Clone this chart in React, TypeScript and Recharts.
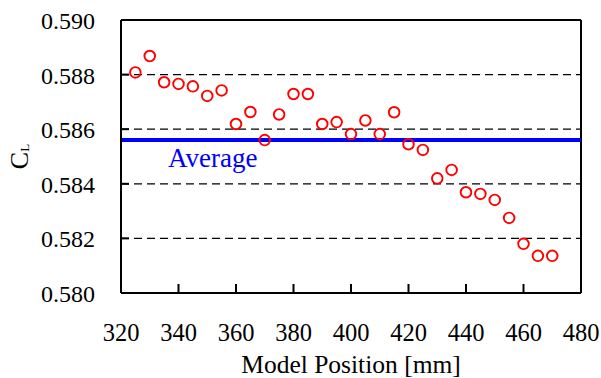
import React from 'react';
import { ScatterChart, Scatter, XAxis, YAxis, ReferenceLine } from 'recharts';

const positions = [325, 330, 335, 340, 345, 350, 355, 360, 365, 370, 375, 380, 385, 390, 395, 400, 405, 410, 415, 420, 425, 430, 435, 440, 445, 450, 455, 460, 465, 470];
const clValues = [0.58808, 0.58868, 0.58772, 0.58766, 0.58757, 0.58722, 0.58742, 0.58619, 0.58663, 0.5856, 0.58654, 0.58729, 0.58729, 0.58619, 0.58626, 0.58582, 0.58632, 0.58582, 0.58662, 0.58545, 0.58524, 0.5842, 0.58451, 0.58369, 0.58363, 0.58341, 0.58275, 0.5818, 0.58136, 0.58136];
const averageCL = 0.5856;
const xTicks = [320, 340, 360, 380, 400, 420, 440, 460, 480];
const yTicks = [0.58, 0.582, 0.584, 0.586, 0.588, 0.59];
const gridValues = [0.582, 0.584, 0.586, 0.588];
const xLabel = 'Model Position [mm]';
const yLabelMain = 'C';
const yLabelSub = 'L';
const averageText = 'Average';

const data = positions.map((p, i) => ({ x: p, y: clValues[i] }));

const FONT = "'Liberation Serif', 'Times New Roman', Times, serif";
const txt = (size: number, fill = '#000') => ({ fontFamily: FONT, fontSize: size, fill });

const XTick = (props: any) => {
  const { x, y, payload } = props;
  return (
    <g>
      <line x1={x} y1={y} x2={x} y2={y - 9} stroke="#000" strokeWidth={2} />
      <text x={x} y={y + 48} textAnchor="middle" style={txt(24.5)}>
        {payload.value}
      </text>
    </g>
  );
};

const YTick = (props: any) => {
  const { x, y, payload } = props;
  return (
    <g>
      <line x1={x} y1={y} x2={x + 8} y2={y} stroke="#000" strokeWidth={2} />
      <text x={x - 26} y={y + 9} textAnchor="end" style={txt(24)}>
        {Number(payload.value).toFixed(3)}
      </text>
    </g>
  );
};

const Marker = (props: any) => {
  const { cx, cy } = props;
  if (cx == null || cy == null) return null;
  return <circle cx={cx} cy={cy} r={5.3} fill="none" stroke="#ff0000" strokeWidth={1.9} />;
};

export default function App() {
  return (
    <div style={{ position: 'absolute', left: 0, top: 0, background: '#fff', fontFamily: FONT }}>
      <ScatterChart width={601} height={378} margin={{ top: 20, right: 20, left: 0, bottom: 0 }} style={{ fontFamily: FONT }}>
        <XAxis
          type="number"
          dataKey="x"
          domain={[320, 480]}
          ticks={xTicks}
          interval={0}
          allowDataOverflow
          height={85}
          tickSize={0}
          tickMargin={0}
          tickLine={false}
          tick={<XTick />}
          axisLine={{ stroke: '#000', strokeWidth: 2 }}
          label={{
            content: (p: any) => {
              const vb = p.viewBox;
              return (
                <text x={vb.x + vb.width / 2} y={vb.y + vb.height - 5} textAnchor="middle" style={txt(25.5)}>
                  {xLabel}
                </text>
              );
            },
          }}
        />
        <YAxis
          type="number"
          dataKey="y"
          domain={[0.58, 0.59]}
          ticks={yTicks}
          interval={0}
          allowDataOverflow
          width={121}
          tickSize={0}
          tickMargin={0}
          tickLine={false}
          tick={<YTick />}
          axisLine={{ stroke: '#000', strokeWidth: 2 }}
          label={{
            content: (p: any) => {
              const vb = p.viewBox;
              const cy = vb.y + vb.height / 2;
              return (
                <text x={28} y={cy} transform={`rotate(-90 28 ${cy})`} textAnchor="middle" style={txt(26)}>
                  <tspan style={{ fontSize: 26 }}>{yLabelMain}</tspan>
                  <tspan style={{ fontSize: 13 }} dy={1}>{yLabelSub}</tspan>
                </text>
              );
            },
          }}
        />
        {gridValues.map((v) => (
          <ReferenceLine key={v} y={v} stroke="#000" strokeWidth={1.2} strokeDasharray="8 5" />
        ))}
        <ReferenceLine y={0.59} stroke="#000" strokeWidth={2} />
        <ReferenceLine x={480} stroke="#000" strokeWidth={2} />
        <ReferenceLine
          y={averageCL}
          stroke="#0000ff"
          strokeWidth={4}
          label={{
            content: (p: any) => {
              const vb = p.viewBox;
              return (
                <text x={vb.x + 47} y={vb.y + 27} style={txt(27, '#0000ff')}>
                  {averageText}
                </text>
              );
            },
          }}
        />
        <Scatter data={data} isAnimationActive={false} shape={<Marker />} />
      </ScatterChart>
    </div>
  );
}
